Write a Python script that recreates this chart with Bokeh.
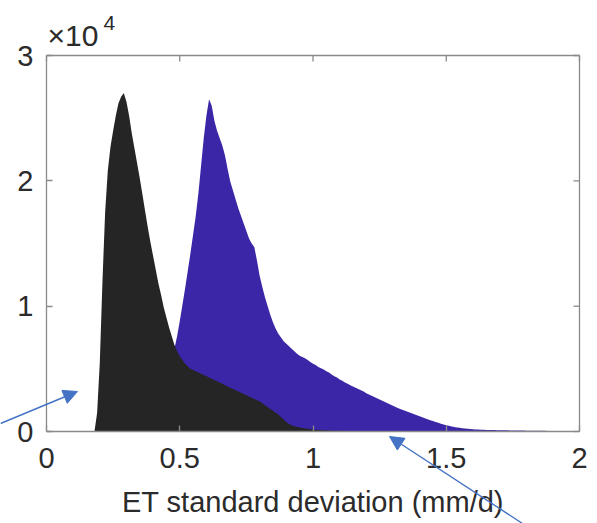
from bokeh.plotting import figure
from bokeh.models import Range1d, LinearAxis, FixedTicker, Label, Arrow, NormalHead
from bokeh.embed import file_html
from bokeh.resources import INLINE
import numpy as np

# ---------------- data (counts in units of 1e4) ----------------
bin_width = 0.01
black_start = 0.18
black_counts_1e4 = [
    0.00, 0.15, 0.55, 1.20, 1.75, 2.08, 2.27, 2.40, 2.52, 2.62,   # 0.18-0.27
    2.67, 2.70, 2.63, 2.52, 2.38, 2.26, 2.14, 2.02, 1.89, 1.76,   # 0.28-0.37
    1.63, 1.51, 1.40, 1.29, 1.18, 1.09, 0.99, 0.91, 0.83, 0.76,   # 0.38-0.47
    0.69, 0.64, 0.60, 0.57, 0.54, 0.52, 0.50, 0.49, 0.48, 0.47,   # 0.48-0.57
    0.46, 0.45, 0.44, 0.43, 0.42, 0.41, 0.40, 0.39, 0.38, 0.37,   # 0.58-0.67
    0.36, 0.35, 0.34, 0.33, 0.32, 0.31, 0.30, 0.29, 0.28, 0.27,   # 0.68-0.77
    0.26, 0.25, 0.24, 0.225, 0.21, 0.195, 0.18, 0.165, 0.15, 0.135,  # 0.78-0.87
    0.115, 0.095, 0.075, 0.06, 0.05, 0.042, 0.036, 0.031, 0.027, 0.024,  # 0.88-0.97
    0.021, 0.018, 0.016, 0.014, 0.012, 0.011, 0.010, 0.009, 0.008, 0.007,  # 0.98-1.07
    0.006, 0.006, 0.005, 0.005, 0.004, 0.004, 0.003, 0.003, 0.003, 0.002,  # 1.08-1.17
    0.002, 0.001, 0.0,                                                   # 1.18-1.20
]

blue_start = 0.40
blue_counts_1e4 = [
    0.05, 0.10, 0.16, 0.23, 0.31, 0.40, 0.48, 0.57, 0.66, 0.76,   # 0.40-0.49
    0.88, 1.01, 1.14, 1.28, 1.42, 1.57, 1.72, 1.90, 2.12, 2.34,   # 0.50-0.59
    2.52, 2.65, 2.60, 2.48, 2.40, 2.34, 2.28, 2.20, 2.09, 1.99,   # 0.60-0.69
    1.92, 1.85, 1.78, 1.72, 1.66, 1.60, 1.54, 1.50, 1.47, 1.36,   # 0.70-0.79
    1.24, 1.15, 1.07, 1.00, 0.93, 0.87, 0.82, 0.78, 0.75, 0.72,   # 0.80-0.89
    0.70, 0.68, 0.66, 0.64, 0.62, 0.605, 0.595, 0.585, 0.57, 0.555,  # 0.90-0.99
    0.54, 0.53, 0.515, 0.505, 0.495, 0.48, 0.47, 0.455, 0.44, 0.43,  # 1.00-1.09
    0.415, 0.405, 0.39, 0.38, 0.37, 0.36, 0.35, 0.34, 0.33, 0.32,    # 1.10-1.19
    0.305, 0.295, 0.285, 0.275, 0.265, 0.255, 0.245, 0.235, 0.225, 0.215,  # 1.20-1.29
    0.205, 0.195, 0.185, 0.178, 0.170, 0.162, 0.154, 0.146, 0.138, 0.130,  # 1.30-1.39
    0.122, 0.114, 0.106, 0.098, 0.090, 0.083, 0.076, 0.069, 0.062, 0.056,  # 1.40-1.49
    0.050, 0.045, 0.040, 0.036, 0.032, 0.029, 0.026, 0.023, 0.021, 0.019,  # 1.50-1.59
    0.017, 0.016, 0.015, 0.014, 0.013, 0.012, 0.012, 0.011, 0.011, 0.010,  # 1.60-1.69
    0.010, 0.009, 0.009, 0.009, 0.008, 0.008, 0.008, 0.007, 0.007, 0.007,  # 1.70-1.79
    0.006, 0.006, 0.006, 0.006, 0.005, 0.005, 0.005, 0.005, 0.004, 0.004,  # 1.80-1.89
    0.004, 0.004, 0.004, 0.003, 0.003, 0.003, 0.003, 0.003, 0.003, 0.002,  # 1.90-1.99
    0.002,                                                               # 2.00
]

x_min, x_max = 0, 2
y_min, y_max = 0, 30000
x_ticks = [0, 0.5, 1, 1.5, 2]
x_tick_labels = ["0", "0.5", "1", "1.5", "2"]
y_ticks = [0, 10000, 20000, 30000]
y_tick_labels = ["0", "1", "2", "3"]
x_label = "ET standard deviation (mm/d)"
exponent_base = "\u00d710"
exponent_power = "4"

# ---------------- derived columns ----------------
black_x = black_start + bin_width * np.arange(len(black_counts_1e4))
black_y = np.array(black_counts_1e4) * 1e4
blue_x = blue_start + bin_width * np.arange(len(blue_counts_1e4))
blue_y = np.array(blue_counts_1e4) * 1e4

FONT = "Liberation Sans"
TXT = "#2b2b2b"
AX = "#8a8a8a"
BLACK = "#252525"
BLUE = "#3a26a6"
ARROW = "#4472C4"

W, H = 597, 523
# pixel geometry of the axes box on the canvas
BOX_L, BOX_R, BOX_T, BOX_B = 46, 579, 55, 431
sx = (BOX_R - BOX_L) / (x_max - x_min)
sy = (BOX_B - BOX_T) / (y_max - y_min)
def dx(px):
    return x_min + (px - BOX_L) / sx
def dy(py):
    return y_min + (BOX_B - py) / sy

p = figure(width=W, height=H, output_backend="svg", toolbar_location=None,
           x_range=Range1d(dx(0), dx(W)), y_range=Range1d(dy(H), dy(0)),
           min_border=0, x_axis_location=None, y_axis_location=None)
p.min_border_left = p.min_border_right = p.min_border_top = p.min_border_bottom = 0
p.grid.visible = False
p.outline_line_color = None
p.background_fill_color = "white"

p.varea(x=blue_x, y1=0, y2=blue_y, fill_color=BLUE)
p.varea(x=black_x, y1=0, y2=black_y, fill_color=BLACK)

TICK = 6
def style(ax):
    ax.axis_line_color = AX
    ax.axis_line_width = 1.3
    ax.major_tick_line_color = AX
    ax.major_tick_line_width = 1.3
    ax.major_tick_in = TICK
    ax.major_tick_out = 0
    ax.minor_tick_line_color = None
    ax.major_label_text_font = FONT
    ax.major_label_text_color = TXT
    ax.major_label_text_font_size = "29px"

xb = LinearAxis(ticker=FixedTicker(ticks=x_ticks), fixed_location=y_min, bounds=(x_min, x_max),
                major_label_overrides=dict(zip(x_ticks, x_tick_labels)))
style(xb)
xb.major_label_standoff = 16
p.add_layout(xb, "below")

yl = LinearAxis(ticker=FixedTicker(ticks=y_ticks), fixed_location=x_min, bounds=(y_min, y_max),
                major_label_overrides=dict(zip(y_ticks, y_tick_labels)))
style(yl)
yl.major_label_standoff = 13
p.add_layout(yl, "left")

# top and right sides of the box, with inward ticks
p.segment(x0=[x_min, x_max], y0=[y_max, y_min], x1=[x_max, x_max], y1=[y_max, y_max],
          line_color=AX, line_width=1.3)
p.segment(x0=x_ticks, y0=[y_max] * len(x_ticks), x1=x_ticks, y1=[y_max - TICK / sy] * len(x_ticks),
          line_color=AX, line_width=1.3)
p.segment(x0=[x_max] * len(y_ticks), y0=y_ticks, x1=[x_max - TICK / sx] * len(y_ticks), y1=y_ticks,
          line_color=AX, line_width=1.3)

p.add_layout(Label(x=(x_min + x_max) / 2, y=dy(501), text=x_label,
                   text_font=FONT, text_font_size="29px", text_color=TXT,
                   text_align="center", text_baseline="alphabetic"))
p.add_layout(Label(x=dx(47), y=dy(35), text=exponent_base,
                   text_font=FONT, text_font_size="30px", text_color=TXT,
                   text_align="left", text_baseline="alphabetic"))
p.add_layout(Label(x=dx(103), y=dy(22), text=exponent_power,
                   text_font=FONT, text_font_size="21px", text_color=TXT,
                   text_align="left", text_baseline="alphabetic"))

# annotation arrows (canvas pixel positions converted to data coordinates)
for (x0, y0, x1, y1) in [(0, 423, 77, 391), (522, 523, 389, 436)]:
    p.add_layout(Arrow(x_start=dx(x0), y_start=dy(y0), x_end=dx(x1), y_end=dy(y1),
                       line_color=ARROW, line_width=1.4,
                       end=NormalHead(size=14, fill_color=ARROW, line_color=ARROW)))

open("out.html", "w").write(file_html(p, INLINE))
